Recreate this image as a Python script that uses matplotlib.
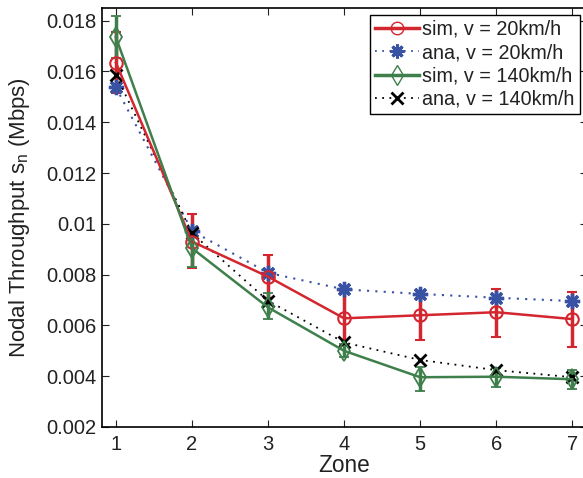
import matplotlib.pyplot as plt
from matplotlib.lines import Line2D

plt.rcParams['font.family'] = ['Liberation Sans', 'DejaVu Sans']

zones = [1, 2, 3, 4, 5, 6, 7]

# sim, v = 20km/h
sim20 = [0.01634, 0.00930, 0.00792, 0.00628, 0.00640, 0.00652, 0.00625]
sim20_lo = [0.01516, 0.00825, 0.00707, 0.00523, 0.00543, 0.00556, 0.00516]
sim20_hi = [0.01754, 0.01037, 0.00877, 0.00733, 0.00737, 0.00742, 0.00730]

# ana, v = 20km/h
ana20 = [0.01537, 0.00972, 0.00807, 0.00742, 0.00724, 0.00709, 0.00696]

# sim, v = 140km/h
sim140 = [0.01734, 0.00904, 0.00671, 0.00500, 0.00396, 0.00398, 0.00388]
sim140_lo = [0.01655, 0.00831, 0.00624, 0.00474, 0.00343, 0.00356, 0.00348]
sim140_hi = [0.01819, 0.00970, 0.00726, 0.00526, 0.00437, 0.00433, 0.00424]

# ana, v = 140km/h
ana140 = [0.01586, 0.00963, 0.00697, 0.00533, 0.00464, 0.00424, 0.00396]

red = '#d3262f'
blue = '#3953a4'
green = '#3f7f4b'

fig = plt.figure(figsize=(5.83, 4.78), dpi=100)
ax = fig.add_axes([101.5/583, 51/478, 485.2/583, 419/478])

def err(v, lo, hi):
    return [[a - b for a, b in zip(v, lo)], [c - a for a, c in zip(v, hi)]]

ax.errorbar(zones, sim20, yerr=err(sim20, sim20_lo, sim20_hi), color=red, lw=1.8,
            marker='o', ms=9, mfc='none', mec=red, mew=1.5,
            elinewidth=2.5, capsize=3.6, capthick=2.5)
ax.errorbar(zones, sim140, yerr=err(sim140, sim140_lo, sim140_hi), color=green, lw=1.8,
            marker='d', ms=10, mfc='none', mec=green, mew=1.3,
            elinewidth=2.5, capsize=3.6, capthick=2.5)
ax.plot(zones, ana20, color=blue, ls=(0, (1, 3)), lw=1.5, alpha=1,
        marker=(8, 2, 0), ms=11, mew=2.4, mec=blue)
ax.plot(zones, ana140, color='black', ls=(0, (1, 3)), lw=1.3,
        marker='x', ms=8, mew=2)

ax.set_xlim(0.81, 7.19)
ax.set_ylim(0.002, 0.0185)
ax.set_xticks(zones)
ax.set_yticks([0.002, 0.004, 0.006, 0.008, 0.01, 0.012, 0.014, 0.016, 0.018])
ax.set_yticklabels(['0.002', '0.004', '0.006', '0.008', '0.01', '0.012', '0.014', '0.016', '0.018'])
ax.tick_params(direction='in', top=True, right=True, labelsize=14.5, length=5,
               colors='#222222', labelcolor='#222222')
ax.tick_params(axis='x', pad=6)
for s in ax.spines.values():
    s.set_linewidth(1.2)

ax.set_xlabel('Zone', fontsize=16.3, color='#222222', labelpad=0)
ax.set_ylabel('Nodal Throughput s$_\\mathregular{n}$ (Mbps)', fontsize=16, color='#222222', labelpad=10)

handles = [
    Line2D([], [], color=red, lw=2.5, marker='o', ms=9, mfc='none', mec=red, mew=1),
    Line2D([], [], color=blue, ls=(0, (1, 3)), lw=1.3, marker=(8, 2, 0), ms=10, mew=2.2),
    Line2D([], [], color=green, lw=2.5, marker='d', ms=10, mfc='none', mec=green, mew=1),
    Line2D([], [], color='black', ls=(0, (1, 3)), lw=1.3, marker='x', ms=8, mew=2),
]
labels = ['sim, v = 20km/h', 'ana, v = 20km/h', 'sim, v = 140km/h', 'ana, v = 140km/h']
leg = ax.legend(handles, labels, loc='upper right', fontsize=14.2, fancybox=False,
                edgecolor='black', framealpha=1, handlelength=2.2, handletextpad=0.2,
                borderpad=0.25, labelspacing=0.22, borderaxespad=0.35)
leg.get_frame().set_linewidth(1.0)
for t in leg.get_texts():
    t.set_color('#222222')

fig.savefig('out.png', dpi=100)
